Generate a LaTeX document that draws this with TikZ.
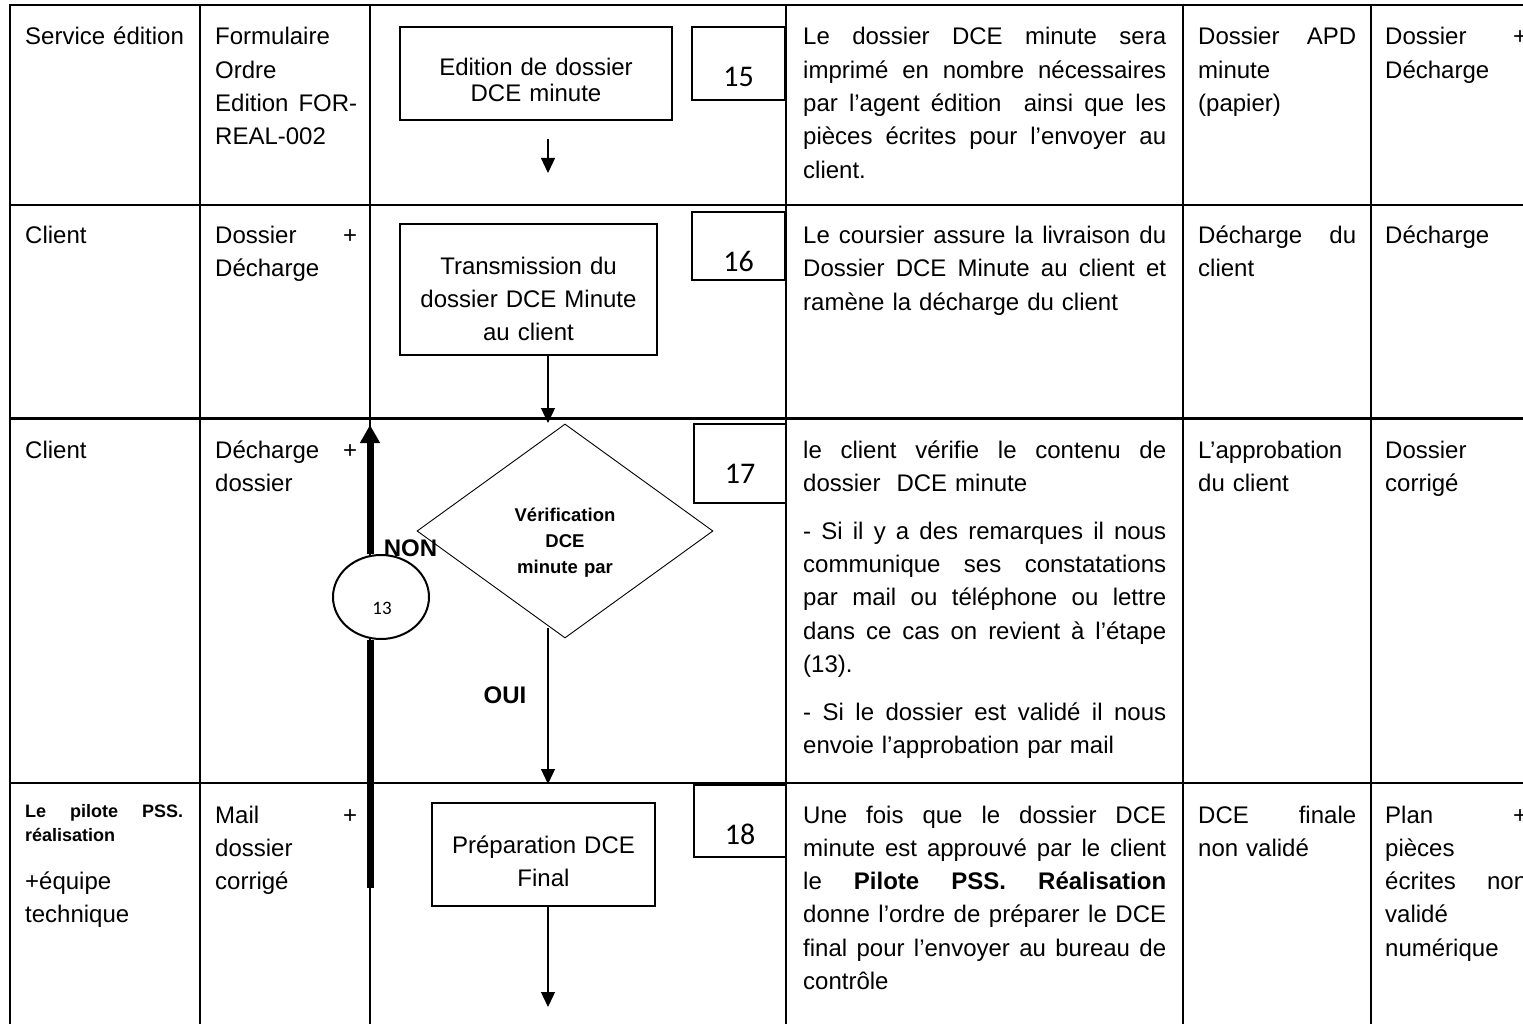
\documentclass[tikz,border=0pt]{standalone}
\usepackage{fontspec}
\setmainfont{Liberation Sans}
\newfontfamily\numfont{Carlito}
\usetikzlibrary{arrows.meta,shapes.geometric}

% a line of a justified cell, stretched to the full cell width
% (the ragged alignment of nodes fixes \spaceskip, so it is reset here)
\newcommand\jl[1]{{\spaceskip=0pt\xspaceskip=0pt\makebox[\linewidth][s]{#1}}}

\begin{document}
\begin{tikzpicture}[x=1pt,y=-1pt,
  grid/.style={line width=2.7pt,line cap=rect},
  cell/.style={anchor=base west,inner sep=0pt,align=left,
    font=\fontsize{24}{33.3}\selectfont},
  smallbold/.style={anchor=base west,inner sep=0pt,align=left,
    font=\fontsize{18}{24}\selectfont\bfseries},
  stepbox/.style={draw,rectangle,line width=1.2pt,inner sep=0pt},
  steptext/.style={anchor=base,inner sep=0pt,align=center,text width=250pt},
  numbox/.style={draw,rectangle,line width=1.5pt,inner sep=0pt,minimum width=93pt},
  numtext/.style={inner sep=0pt,font=\numfont\fontsize{30}{36}\selectfont},
  flow/.style={line width=1.3pt,-{Triangle[length=15pt,width=14pt]}},
  back/.style={line width=7pt},
  lbl/.style={anchor=base,inner sep=0pt,font=\fontsize{24}{28}\selectfont\bfseries},
]
\useasboundingbox (0,0) rectangle (1523,1024);
\fill[white] (0,0) rectangle (1523,1024);
\clip (0,0) rectangle (1523,1024);

% table rules
\foreach \x in {10,200,370,786,1183,1371}
  \draw[grid] (\x,5) -- (\x,1040);
\foreach \y in {5,205,418.5,783}
  \draw[grid] (10,\y) -- (1540,\y);

% ---------- row 1 ----------
\node[cell,text width=160pt] (r1c1) at (25,45) {Service édition};
\node[cell,text width=142pt] (r1c2) at (215,45) {Formulaire\\Ordre\\\jl{Edition FOR-}\\REAL-002};
\node[cell,text width=363pt] (r1c4) at (803,45) {\jl{Le dossier DCE minute sera}\\\jl{imprimé en nombre nécessaires}\\\jl{par l’agent édition\ \ ainsi que les}\\\jl{pièces écrites pour l’envoyer au}\\client.};
\node[cell,text width=158pt] (r1c5) at (1198,45) {\jl{Dossier APD}\\minute\\(papier)};
\node[cell,text width=142pt] (r1c6) at (1385,45) {\jl{Dossier +}\\Décharge};

% ---------- row 2 ----------
\node[cell,text width=160pt] (r2c1) at (25,243.5) {Client};
\node[cell,text width=142pt] (r2c2) at (215,243.5) {\jl{Dossier +}\\Décharge};
\node[cell,text width=363pt] (r2c4) at (803,243.5) {\jl{Le coursier assure la livraison du}\\\jl{Dossier DCE Minute au client et}\\ramène la décharge du client};
\node[cell,text width=158pt] (r2c5) at (1198,243.5) {\jl{Décharge du}\\client};
\node[cell,text width=142pt] (r2c6) at (1385,243.5) {Décharge};

% ---------- row 3 ----------
\node[cell,text width=160pt] (r3c1) at (25,458) {Client};
\node[cell,text width=142pt] (r3c2) at (215,458) {\jl{Décharge +}\\dossier};
\node[cell,text width=363pt] (r3c4) at (803,458) {\jl{le client vérifie le contenu de}\\dossier\ \ DCE minute\\[14.7pt]\jl{- Si il y a des remarques il nous}\\\jl{communique ses constatations}\\\jl{par mail ou téléphone ou lettre}\\\jl{dans ce cas on revient à l’étape}\\(13).\\[14.7pt]\jl{- Si le dossier est validé il nous}\\envoie l’approbation par mail};
\node[cell,text width=158pt] (r3c5) at (1198,458) {L’approbation\\du client};
\node[cell,text width=142pt] (r3c6) at (1385,458) {Dossier\\corrigé};

% ---------- row 4 ----------
\node[smallbold,text width=158pt] (r4c1a) at (25,817) {\jl{Le pilote PSS.}\\réalisation};
\node[cell,text width=160pt] (r4c1b) at (25,889) {+équipe\\technique};
\node[cell,text width=142pt] (r4c2) at (215,823) {\jl{Mail +}\\dossier\\corrigé};
\node[cell,text width=363pt] (r4c4) at (803,823) {\jl{Une fois que le dossier DCE}\\\jl{minute est approuvé par le client}\\\jl{le \textbf{Pilote PSS. Réalisation}}\\\jl{donne l’ordre de préparer le DCE}\\\jl{final pour l’envoyer au bureau de}\\contrôle};
\node[cell,text width=158pt] (r4c5) at (1198,823) {\jl{DCE finale}\\non validé};
\node[cell,text width=142pt] (r4c6) at (1385,823) {\jl{Plan +}\\pièces\\\jl{écrites non}\\validé\\numérique};

% ---------- process steps ----------
\node[stepbox,minimum width=272pt,minimum height=93pt] (b15) at (536,73.5) {};
\node[steptext,font=\fontsize{24}{26}\selectfont] (t15) at (536,76) {Edition de dossier\\DCE minute};
\node[numbox,minimum height=73pt] (n15) at (738.5,63.5) {};
\node[numtext] (k15) at (738.5,76.5) {15};

\node[stepbox,minimum width=257pt,minimum height=131pt] (b16) at (528.5,289.5) {};
\node[steptext,font=\fontsize{24}{33}\selectfont] (t16) at (528.5,275) {Transmission du\\dossier DCE Minute\\au client};
\node[numbox,minimum height=68pt] (n16) at (738.5,246) {};
\node[numtext] (k16) at (738.5,261.5) {16};

\node[draw,diamond,line width=0.9pt,inner sep=0pt,minimum width=296pt,minimum height=214pt] (d17) at (565,531) {};
\node[steptext,text width=150pt,font=\fontsize{18.5}{26}\selectfont\bfseries] (t17) at (565,521) {Vérification\\DCE\\minute par};
\node[numbox,minimum width=92pt,minimum height=79pt] (n17) at (740,463.5) {};
\node[numtext] (k17) at (740,473.5) {17};

\node[stepbox,minimum width=223pt,minimum height=103pt] (b18) at (543.5,854.5) {};
\node[steptext,font=\fontsize{24}{33}\selectfont] (t18) at (543.5,853) {Préparation DCE\\Final};
\node[numbox,minimum width=92pt,minimum height=72pt] (n18) at (740,821) {};
\node[numtext] (k18) at (740,834.5) {18};

% return connector to step 13
\node[draw,ellipse,line width=2pt,fill=white,inner sep=0pt,minimum width=96pt,minimum height=84pt] (c13) at (381,597) {};
\node[inner sep=0pt,font=\numfont\fontsize{19}{22}\selectfont] (k13) at (382,608) {13};

% ---------- connectors ----------
\coordinate (a15s) at (548,139);
\coordinate (a15e) at (548,173);
\draw[flow] (a15s) -- (a15e);

\coordinate (f16) at (548,423);
\draw[flow] (b16.south -| f16) -- (f16);

\coordinate (d17out) at (548,628);
\coordinate (f17) at (548,784);
\draw[flow] (d17out) -- (f17);

\coordinate (f18) at (548,1007);
\draw[flow] (b18.south -| f18) -- (f18);

\coordinate (ret0) at (370,888);
\coordinate (ret1) at (370,425);
\draw[back] (ret0) -- (c13.south -| ret0);
\draw[back,-{Triangle[length=18pt,width=19pt]}] (c13.north -| ret0) -- (ret1);

\node[lbl] (non) at (410.5,556) {NON};
\node[lbl] (oui) at (505,703) {OUI};
\end{tikzpicture}
\end{document}
